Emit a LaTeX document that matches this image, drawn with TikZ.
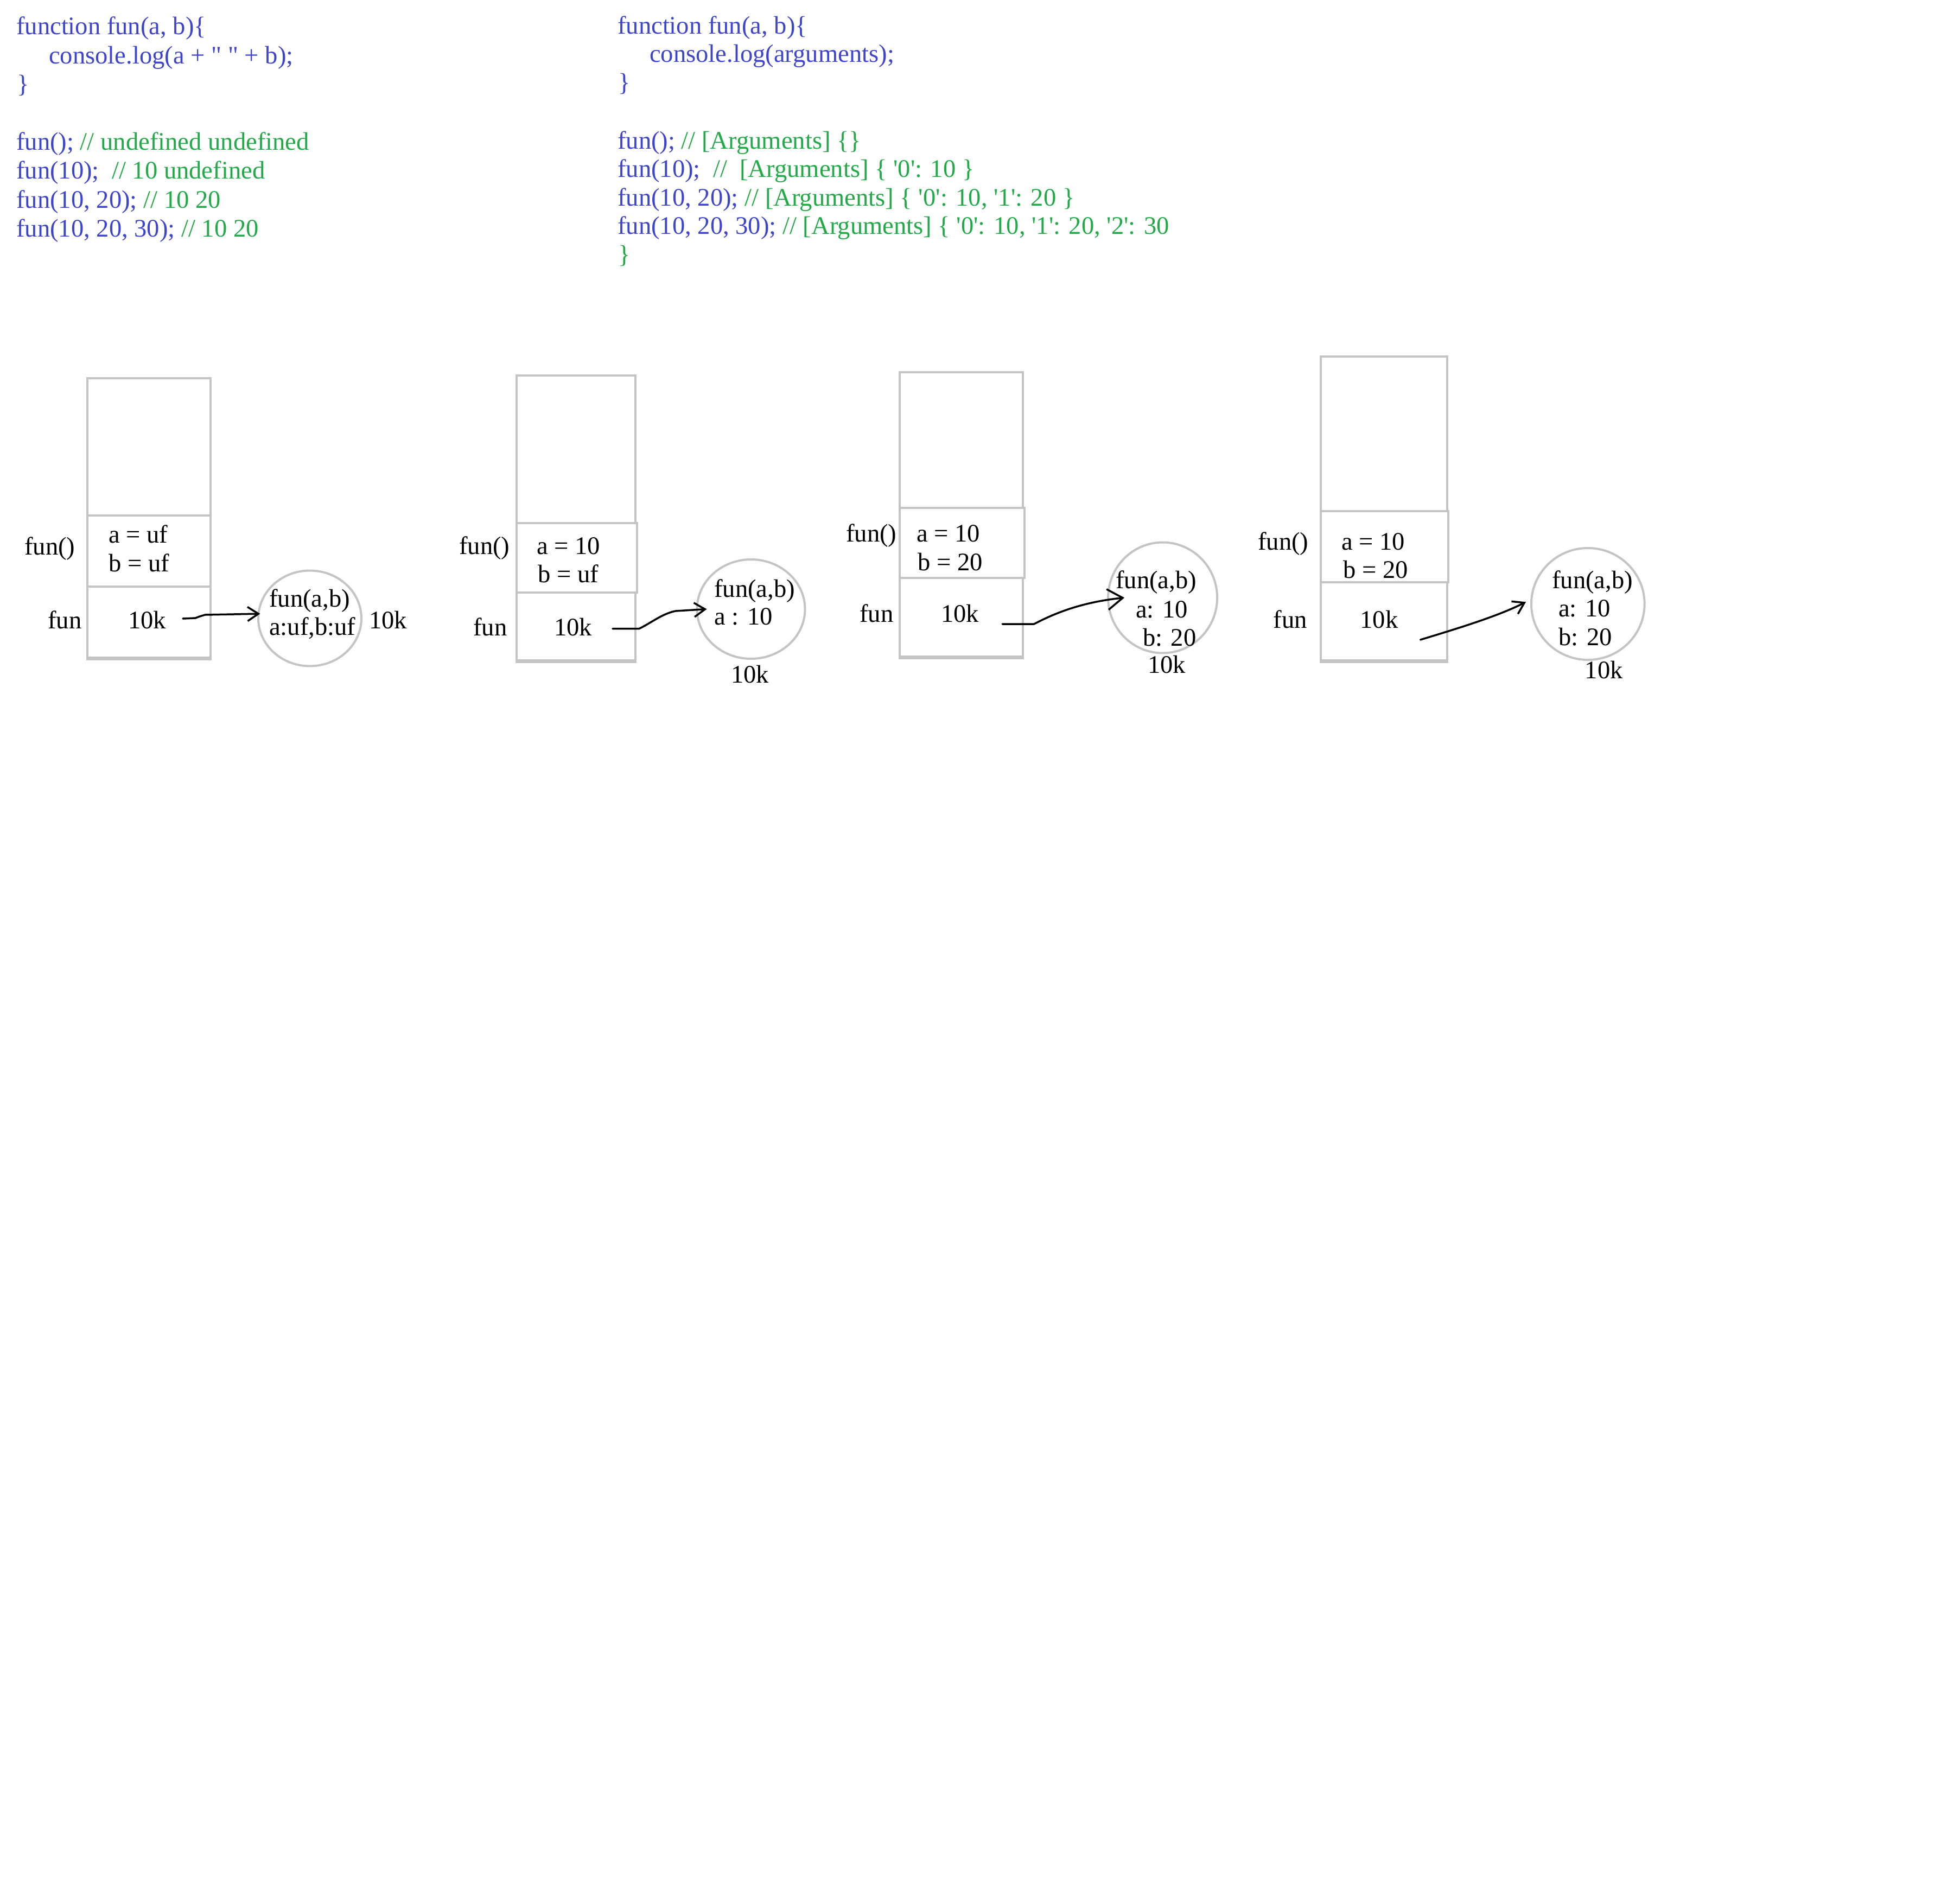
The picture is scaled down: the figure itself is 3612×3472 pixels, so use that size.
\documentclass[tikz,border=0pt]{standalone}
\usepackage{fontspec}
\setmainfont{Liberation Serif}
\newfontfamily\codefont[Ligatures=TeXOff]{Liberation Serif}
\usetikzlibrary{shapes.geometric,arrows.meta,calc}
\definecolor{codeblue}{RGB}{63,68,204}
\definecolor{codegreen}{RGB}{34,170,72}
\definecolor{boxgray}{RGB}{196,196,196}
\tikzset{
  code/.style={anchor=base west, inner sep=0pt, font=\codefont\fontsize{46.6}{53}\selectfont, text=codeblue},
  lbl/.style={anchor=base west, inner sep=0pt, font=\fontsize{46.6}{53}\selectfont},
  cell/.style={draw=boxgray, line width=4pt, rectangle, inner sep=0pt},
  heap/.style={draw=boxgray, line width=4pt, ellipse, inner sep=0pt},
  thickbottom/.style={draw=boxgray, line width=6pt},
  ptr/.style={draw=black, line width=3.5pt, line cap=round, line join=round,
              -{Straight Barb[length=20pt,width=26pt,line width=3.5pt]}},
}
\begin{document}
\begin{tikzpicture}[x=1pt,y=-1pt]
\useasboundingbox (0,0) rectangle (3612,3472);
\fill[white] (0,0) rectangle (3612,3472);

% ---------- code block 1 ----------
\node[code] (k1) at (30,63) {function fun(a, b)\{};
\node[code] (k2) at (90,117) {console.log(a + " " + b);};
\node[code] (k3) at (31,170) {\}};
\node[code] (k4) at (30,276) {fun(); \textcolor{codegreen}{// undefined undefined}};
\node[code] (k5) at (30,329) {fun(10);\ \ \textcolor{codegreen}{// 10 undefined}};
\node[code] (k6) at (30,383) {fun(10, 20); \textcolor{codegreen}{// 10 20}};
\node[code] (k7) at (30,436) {fun(10, 20, 30); \textcolor{codegreen}{// 10 20}};

% ---------- code block 2 ----------
\node[code] (m1) at (1138,62) {function fun(a, b)\{};
\node[code] (m2) at (1197,114) {console.log(arguments);};
\node[code] (m3) at (1139,167) {\}};
\node[code] (m4) at (1138,274) {fun(); \textcolor{codegreen}{// [Arguments] \{\}}};
\node[code] (m5) at (1138,326) {fun(10);\ \ \textcolor{codegreen}{//\ \ [Arguments] \{ '0': 10 \}}};
\node[code] (m6) at (1138,379) {fun(10, 20); \textcolor{codegreen}{// [Arguments] \{ '0': 10, '1': 20 \}}};
\node[code] (m7) at (1138,431) {fun(10, 20, 30); \textcolor{codegreen}{// [Arguments] \{ '0': 10, '1': 20, '2': 30}};
\node[code, text=codegreen] (m8) at (1139,484) {\}};

% ---------- diagram 1 ----------
\node[cell, minimum width=227pt, minimum height=253pt] (t1) at (274.5,823.5) {};
\node[cell, minimum width=227pt, minimum height=131pt] (v1) at (274.5,1015.5) {};
\node[cell, minimum width=227pt, minimum height=131pt] (b1) at (274.5,1146.5) {};
\draw[thickbottom] (b1.south west) -- (b1.south east);
\node[lbl] (f1a) at (45,1022) {fun()};
\node[lbl] (f1b) at (88,1158) {fun};
\node[lbl] (a1) at (200,1000) {a = uf};
\node[lbl] (bb1) at (200,1053) {b = uf};
\node[lbl] (k1k) at (236,1158) {10k};
\node[heap, minimum width=190pt, minimum height=176pt] (c1) at (571,1139.5) {};
\node[lbl] (c1t1) at (496,1118) {fun(a,b)};
\node[lbl] (c1t2) at (496,1170) {a:uf,b:uf};
\node[lbl] (c1k) at (680,1158) {10k};
\coordinate (s1) at (337,1140);
\draw[ptr] (s1) -- (360,1139) -- (368,1136) -- (378,1133) -- ([xshift=5pt]c1.175);

% ---------- diagram 2 ----------
\node[cell, minimum width=219pt, minimum height=272pt] (t2) at (1061.7,828) {};
\node[cell, minimum width=222pt, minimum height=128pt] (v2) at (1063,1028) {};
\node[cell, minimum width=219pt, minimum height=125pt] (b2) at (1061.7,1154.5) {};
\draw[thickbottom] (b2.south west) -- (b2.south east);
\node[lbl] (f2a) at (846,1021) {fun()};
\node[lbl] (f2b) at (872,1171) {fun};
\node[lbl] (a2) at (989,1021) {a = 10};
\node[lbl] (bb2) at (991,1073) {b = uf};
\node[lbl] (k2k) at (1021,1171) {10k};
\node[heap, minimum width=199pt, minimum height=183pt] (c2) at (1384,1122.5) {};
\node[lbl] (c2t1) at (1316,1100) {fun(a,b)};
\node[lbl] (c2t2) at (1316,1151) {a : 10};
\node[lbl] (c2k) at (1347,1258) {10k};
\coordinate (s2) at (1129,1158.7);
\draw[ptr] (s2) -- (1177.5,1158.7) .. controls (1200,1148) and (1220,1131) .. (1245,1126) -- ([xshift=20pt]c2.west);

% ---------- diagram 3 ----------
\node[cell, minimum width=227pt, minimum height=250pt] (t3) at (1771.5,811) {};
\node[cell, minimum width=230pt, minimum height=129pt] (v3) at (1773,1000.4) {};
\node[cell, minimum width=227pt, minimum height=145pt] (b3) at (1771.5,1137.4) {};
\draw[thickbottom] (b3.south west) -- (b3.south east);
\node[lbl] (f3a) at (1559,998) {fun()};
\node[lbl] (f3b) at (1584,1146) {fun};
\node[lbl] (a3) at (1689,998) {a = 10};
\node[lbl] (bb3) at (1691,1051.5) {b = 20};
\node[lbl] (k3k) at (1734,1146) {10k};
\node[heap, minimum width=201pt, minimum height=204pt] (c3) at (2142.6,1101.5) {};
\node[lbl] (c3t1) at (2056,1084.7) {fun(a,b)};
\node[lbl] (c3t2) at (2093,1138) {a: 10};
\node[lbl] (c3t3) at (2106,1190.8) {b: 20};
\node[lbl] (c3k) at (2115,1240) {10k};
\coordinate (s3) at (1847,1150);
\draw[ptr, -{Straight Barb[length=28pt,width=38pt,line width=3.5pt]}] (s3) -- (1905.6,1150) .. controls (1940,1132) and (1990,1110) .. ([xshift=32pt]c3.west);

% ---------- diagram 4 ----------
\node[cell, minimum width=233pt, minimum height=284.5pt] (t4) at (2550.9,799.3) {};
\node[cell, minimum width=235pt, minimum height=131.5pt] (v4) at (2551.9,1007.3) {};
\node[cell, minimum width=233pt, minimum height=144pt] (b4) at (2550.9,1145) {};
\draw[thickbottom] (b4.south west) -- (b4.south east);
\node[lbl] (f4a) at (2318,1013) {fun()};
\node[lbl] (f4b) at (2346.5,1157) {fun};
\node[lbl] (a4) at (2472,1013) {a = 10};
\node[lbl] (bb4) at (2475,1065) {b = 20};
\node[lbl] (k4k) at (2506.4,1157) {10k};
\node[heap, minimum width=208.7pt, minimum height=206pt] (c4) at (2926.3,1113) {};
\node[lbl] (c4t1) at (2860,1084) {fun(a,b)};
\node[lbl] (c4t2) at (2872,1136.7) {a: 10};
\node[lbl] (c4t3) at (2872,1189.8) {b: 20};
\node[lbl] (c4k) at (2920.6,1250.5) {10k};
\coordinate (s4) at (2617.5,1179);
\draw[ptr] (s4) .. controls (2680,1160) and (2760,1136) .. ([xshift=-8pt]c4.178);
\end{tikzpicture}
\end{document}
